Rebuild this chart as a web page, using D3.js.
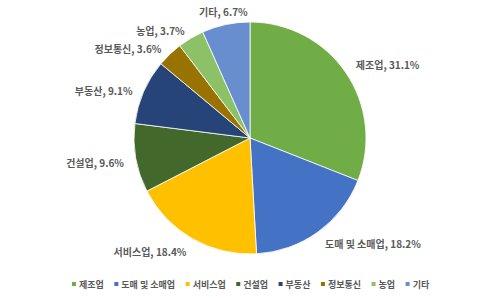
<!DOCTYPE html>
<html>
<head>
<meta charset="utf-8">
<script src="https://cdn.jsdelivr.net/npm/d3@7"></script>
<style>
  body { margin: 0; background: #fff; }
  svg { display: block; }
  text { font-family: "Noto Sans CJK KR", "Noto Sans", sans-serif; }
</style>
</head>
<body>
<svg id="chart" width="500" height="298"></svg>
<script>
// categories and shares (%), clockwise from 12 o'clock
const categories = ['제조업', '도매 및 소매업', '서비스업', '건설업', '부동산', '정보통신', '농업', '기타'];
const shares = [31.1, 18.2, 18.4, 9.6, 9.1, 3.6, 3.7, 6.7];
const colors = ['#70ad47', '#4472c4', '#ffc000', '#43682b', '#264478', '#997300', '#8cc168', '#698ed0'];

const width = 500, height = 298;
const cx = 250, cy = 138, radius = 116;

const svg = d3.select('#chart');

const rows = categories.map((c, i) => ({ name: c, value: shares[i], color: colors[i] }));

const pie = d3.pie().sort(null).value(d => d.value);
const arc = d3.arc().innerRadius(0).outerRadius(radius);
const arcs = pie(rows);

const g = svg.append('g').attr('transform', 'translate(' + cx + ',' + cy + ')');

g.selectAll('path.slice')
  .data(arcs)
  .join('path')
  .attr('class', 'slice')
  .attr('d', arc)
  .attr('fill', d => d.data.color)
  .attr('stroke', '#ffffff')
  .attr('stroke-width', 0.8);

// outside-end labels
const labelR = radius + 12;
g.selectAll('text.lbl')
  .data(arcs)
  .join('text')
  .attr('class', 'lbl')
  .each(function (d) {
    let a = (d.startAngle + d.endAngle) / 2;
    let s = Math.sin(a), c = Math.cos(a);
    let x = s * labelR, y = -c * labelR;
    let anchor = Math.abs(s) < 0.3 ? 'middle' : (s > 0 ? 'start' : 'end');
    // small slices near the top sit a bit lower in the original
    let dy = (c > 0 && s < -0.3) ? 3 : (c > 0 ? -1 : 2);
    d3.select(this)
      .attr('x', x)
      .attr('y', y + dy)
      .attr('text-anchor', anchor)
      .attr('dominant-baseline', 'central');
  })
  .attr('font-size', 10)
  .attr('font-weight', 700)
  .attr('fill', '#595959')
  .text(d => d.data.name + ', ' + d.data.value.toFixed(1) + '%');

// legend along the bottom
const legend = svg.append('g');
const items = legend.selectAll('g.item')
  .data(rows)
  .join('g')
  .attr('class', 'item');

items.append('rect')
  .attr('width', 4)
  .attr('height', 4)
  .attr('y', -2)
  .attr('fill', d => d.color);

items.append('text')
  .attr('x', 7)
  .attr('dominant-baseline', 'central')
  .attr('font-size', 9)
  .attr('font-weight', 700)
  .attr('fill', '#595959')
  .text(d => d.name);

let offsets = [], pos = 0;
const gap = 10.5;
items.each(function () {
  offsets.push(pos);
  let w = d3.select(this).select('text').node().getComputedTextLength();
  pos += 7 + w + gap;
});
let total = pos - gap;
let startX = 72;
items.attr('transform', (d, i) => 'translate(' + (startX + offsets[i]) + ',284)');
</script>
</body>
</html>
